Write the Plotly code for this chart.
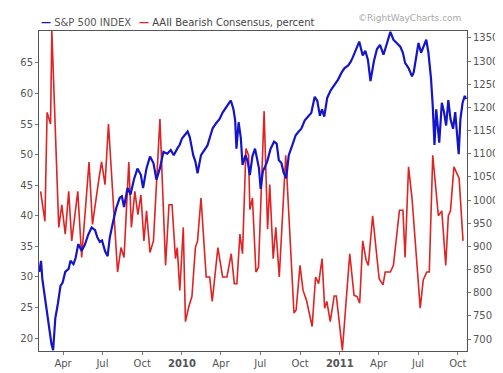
import plotly.graph_objects as go

# ---------------- data ----------------
sp_dates = [
    "2009-02-05", "2009-02-09", "2009-02-12", "2009-02-18", "2009-02-23", "2009-02-28",
    "2009-03-05", "2009-03-09", "2009-03-14", "2009-03-20", "2009-03-26", "2009-03-31",
    "2009-04-06", "2009-04-14", "2009-04-18", "2009-04-25", "2009-04-30", "2009-05-06",
    "2009-05-14", "2009-05-21", "2009-05-29", "2009-06-06", "2009-06-14", "2009-06-19",
    "2009-06-25", "2009-06-30", "2009-07-07", "2009-07-13", "2009-07-18", "2009-07-26",
    "2009-08-02", "2009-08-10", "2009-08-15", "2009-08-20", "2009-08-28", "2009-09-04",
    "2009-09-12", "2009-09-20", "2009-09-28", "2009-10-03", "2009-10-11", "2009-10-19",
    "2009-10-27", "2009-11-03", "2009-11-11", "2009-11-19", "2009-11-28", "2009-12-06",
    "2009-12-13", "2009-12-21", "2009-12-27", "2010-01-01", "2010-01-09", "2010-01-14",
    "2010-01-19", "2010-01-27", "2010-02-01", "2010-02-06", "2010-02-14", "2010-02-22",
    "2010-03-01", "2010-03-08", "2010-03-13", "2010-03-21", "2010-03-29", "2010-04-05",
    "2010-04-13", "2010-04-19", "2010-04-24", "2010-04-30", "2010-05-04", "2010-05-07",
    "2010-05-12", "2010-05-17", "2010-05-21", "2010-05-28", "2010-06-02", "2010-06-07",
    "2010-06-13", "2010-06-19", "2010-06-24", "2010-06-28", "2010-07-02", "2010-07-07",
    "2010-07-12", "2010-07-17", "2010-07-25", "2010-08-02", "2010-08-08", "2010-08-13",
    "2010-08-19", "2010-08-24", "2010-08-30", "2010-09-05", "2010-09-13", "2010-09-21",
    "2010-09-27", "2010-10-04", "2010-10-12", "2010-10-19", "2010-10-27", "2010-11-04",
    "2010-11-10", "2010-11-16", "2010-11-21", "2010-11-26", "2010-12-03", "2010-12-11",
    "2010-12-20", "2010-12-28", "2011-01-05", "2011-01-12", "2011-01-20", "2011-01-26",
    "2011-01-31", "2011-02-08", "2011-02-15", "2011-02-23", "2011-03-01", "2011-03-07",
    "2011-03-13", "2011-03-21", "2011-03-28", "2011-04-04", "2011-04-12", "2011-04-20",
    "2011-04-28", "2011-05-05", "2011-05-13", "2011-05-21", "2011-05-27", "2011-06-01",
    "2011-06-09", "2011-06-17", "2011-06-21", "2011-06-25", "2011-07-02", "2011-07-08",
    "2011-07-14", "2011-07-20", "2011-07-25", "2011-07-31", "2011-08-04", "2011-08-08",
    "2011-08-12", "2011-08-15", "2011-08-19", "2011-08-25", "2011-08-30", "2011-09-04",
    "2011-09-09", "2011-09-14", "2011-09-20", "2011-09-25", "2011-09-29", "2011-10-03",
    "2011-10-07", "2011-10-12", "2011-10-17", "2011-10-20",
]
sp_values = [
    845, 869, 830, 789, 760, 730,
    690, 676, 745, 777, 815, 822,
    845, 852, 869, 862, 875, 905,
    891, 903, 925, 941, 935, 920,
    910, 913, 890, 879, 919, 955,
    983, 1005, 1008, 985, 1026, 1012,
    1045, 1068, 1054, 1026, 1069, 1094,
    1080, 1044, 1069, 1104, 1100, 1108,
    1097, 1111, 1120, 1133, 1143, 1148,
    1136, 1097, 1083, 1058, 1097, 1108,
    1118, 1140, 1155, 1166, 1175, 1189,
    1200, 1210, 1215, 1196, 1172, 1111,
    1168, 1135, 1076, 1097, 1083, 1054,
    1095, 1111, 1088, 1069, 1024, 1062,
    1072, 1083, 1111, 1126, 1122, 1086,
    1080, 1060, 1047, 1097, 1118, 1140,
    1147, 1154, 1172, 1180, 1188, 1223,
    1214, 1182, 1196, 1180, 1221, 1237,
    1250, 1260, 1275, 1285, 1290, 1298,
    1308, 1326, 1342, 1312, 1322, 1303,
    1257, 1300, 1326, 1335, 1314, 1338,
    1363, 1346, 1339, 1331, 1318, 1296,
    1285, 1267, 1276, 1296, 1339, 1318,
    1331, 1346, 1318, 1262, 1203, 1119,
    1196, 1161, 1124, 1210, 1190, 1161,
    1216, 1175, 1154, 1190, 1133, 1099,
    1175, 1210, 1225, 1218,
]

bear_dates = [
    "2009-02-08", "2009-02-18", "2009-02-23", "2009-03-03", "2009-03-06", "2009-03-22",
    "2009-03-29", "2009-04-06", "2009-04-14", "2009-04-21", "2009-05-05", "2009-05-14",
    "2009-05-31", "2009-06-08", "2009-06-23", "2009-06-29", "2009-07-07", "2009-07-15",
    "2009-08-05", "2009-08-13", "2009-08-20", "2009-08-31", "2009-09-06", "2009-09-14",
    "2009-09-21", "2009-09-28", "2009-10-05", "2009-10-11", "2009-10-19", "2009-10-27",
    "2009-11-11", "2009-11-24", "2009-12-02", "2009-12-09", "2009-12-17", "2009-12-21",
    "2009-12-27", "2010-01-04", "2010-01-09", "2010-01-17", "2010-01-24", "2010-02-01",
    "2010-02-06", "2010-02-14", "2010-02-26", "2010-03-06", "2010-03-12", "2010-03-25",
    "2010-04-05", "2010-04-15", "2010-04-25", "2010-05-02", "2010-05-08", "2010-05-15",
    "2010-05-21", "2010-05-29", "2010-06-04", "2010-06-07", "2010-06-13", "2010-06-21",
    "2010-06-27", "2010-07-10", "2010-07-18", "2010-07-23", "2010-07-31", "2010-08-06",
    "2010-08-14", "2010-08-29", "2010-09-17", "2010-09-22", "2010-10-01", "2010-10-08",
    "2010-10-16", "2010-10-29", "2010-11-06", "2010-11-13", "2010-11-21", "2010-11-27",
    "2010-12-02", "2010-12-10", "2010-12-19", "2010-12-24", "2011-01-07", "2011-01-24",
    "2011-02-03", "2011-02-10", "2011-02-16", "2011-02-23", "2011-03-03", "2011-03-08",
    "2011-03-18", "2011-03-26", "2011-04-02", "2011-04-11", "2011-04-16", "2011-04-28",
    "2011-05-05", "2011-05-19", "2011-05-27", "2011-06-01", "2011-06-09", "2011-06-17",
    "2011-07-06", "2011-07-13", "2011-07-21", "2011-07-27", "2011-08-04", "2011-08-17",
    "2011-08-25", "2011-09-03", "2011-09-09", "2011-09-14", "2011-09-22", "2011-10-04",
    "2011-10-13",
]
bear_values = [
    44.0, 39.1, 56.9, 55.0, 70.2, 38.1,
    41.8, 37.0, 44.0, 35.9, 44.0, 33.2,
    48.8, 38.6, 46.1, 48.8, 45.1, 55.0,
    30.8, 34.8, 33.2, 48.8, 38.1, 44.0,
    40.2, 43.4, 35.9, 40.8, 34.0, 35.9,
    55.8, 31.9, 41.8, 41.8, 33.0, 34.8,
    27.8, 38.1, 22.7, 25.2, 26.8, 34.8,
    35.9, 42.9, 30.0, 30.0, 26.0, 34.8,
    30.0, 30.0, 33.8, 28.9, 28.9, 37.0,
    33.8, 51.0, 49.9, 41.0, 42.9, 30.8,
    31.6, 57.1, 37.8, 45.1, 33.0, 38.1,
    30.0, 49.9, 24.1, 24.6, 31.9, 27.8,
    26.2, 21.9, 30.0, 28.9, 33.0, 24.9,
    26.0, 22.7, 26.9, 26.9, 18.0, 33.8,
    27.0, 26.8, 25.7, 35.9, 32.7, 31.9,
    40.0, 34.8, 29.7, 28.7, 30.8, 30.8,
    31.9, 40.9, 40.9, 33.2, 48.0, 42.9,
    24.9, 29.5, 30.8, 30.8, 49.9, 40.0,
    40.8, 31.9, 40.0, 40.8, 48.0, 46.1,
    35.9,
]

x_tickvals = ["2009-04-01", "2009-07-01", "2009-10-01", "2010-01-01", "2010-04-01",
              "2010-07-01", "2010-10-01", "2011-01-01", "2011-04-01", "2011-07-01",
              "2011-10-01"]
x_ticktext = ["Apr", "Jul", "Oct", "<b>2010</b>", "Apr", "Jul", "Oct", "<b>2011</b>",
              "Apr", "Jul", "Oct"]
left_ticks = [20, 25, 30, 35, 40, 45, 50, 55, 60, 65]
right_ticks = [700, 750, 800, 850, 900, 950, 1000, 1050, 1100, 1150, 1200, 1250, 1300, 1350]

BLUE = "#1414c8"
RED = "#e02222"
TXT = "#555555"
FONT = "DejaVu Sans"

fig = go.Figure()
fig.add_trace(go.Scatter(
    x=bear_dates, y=bear_values, name="AAII Bearish Consensus, percent",
    mode="lines", line=dict(color=RED, width=1.6), yaxis="y", showlegend=False,
))
fig.add_trace(go.Scatter(
    x=sp_dates, y=sp_values, name="S&P 500 INDEX",
    mode="lines", line=dict(color=BLUE, width=2.2), yaxis="y2", showlegend=False,
))

axis_common = dict(
    showgrid=False, zeroline=False, showline=True, linecolor="#555555", linewidth=1,
    ticks="outside", ticklen=3, tickcolor="#777777",
    tickfont=dict(family=FONT, size=10, color=TXT),
)

fig.update_layout(
    width=503, height=373,
    margin=dict(l=28, r=44, t=23, b=26),
    paper_bgcolor="white", plot_bgcolor="white",
    font=dict(family=FONT, size=10, color=TXT),
    xaxis=dict(
        type="date", range=["2009-02-04 07:00", "2011-10-22 05:00"],
        tickmode="array", tickvals=x_tickvals, ticktext=x_ticktext,
        mirror=True, **axis_common,
    ),
    yaxis=dict(
        range=[17.9, 70.2], tickmode="array", tickvals=left_ticks,
        side="left", **axis_common,
    ),
    yaxis2=dict(
        range=[674.4, 1364.9], tickmode="array", tickvals=right_ticks,
        overlaying="y", side="right", **axis_common,
    ),
    annotations=[
        dict(xref="paper", yref="paper", x=0.0, y=1.028, xanchor="left", yanchor="middle",
             showarrow=False,
             text=f'<span style="color:{BLUE}"><b>—</b></span> S&P 500 INDEX',
             font=dict(family=FONT, size=10, color=TXT)),
        dict(xref="paper", yref="paper", x=0.2297, y=1.028, xanchor="left", yanchor="middle",
             showarrow=False,
             text=f'<span style="color:{RED}"><b>—</b></span> AAII Bearish Consensus, percent',
             font=dict(family=FONT, size=10, color="#444444")),
        dict(xref="paper", yref="paper", x=0.991, y=1.04, xanchor="right", yanchor="middle",
             showarrow=False, text="©RightWayCharts.com",
             font=dict(family=FONT, size=9, color="#aaaaaa")),
    ],
)

fig.write_html("out.html")
